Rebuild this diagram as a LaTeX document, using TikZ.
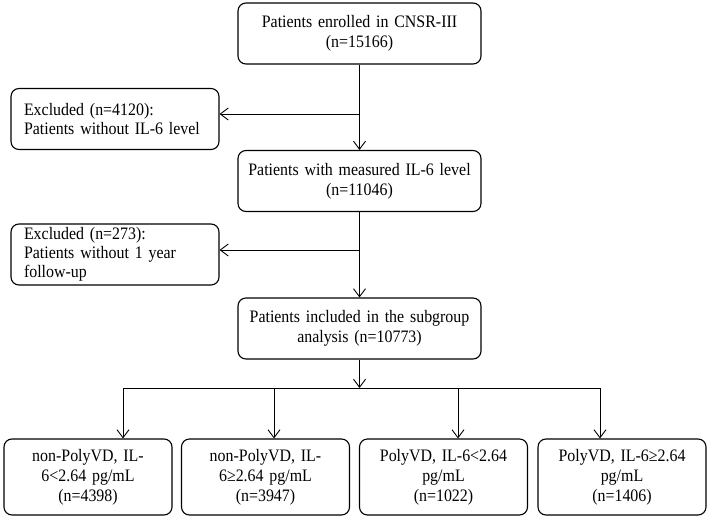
\documentclass[tikz,border=0pt]{standalone}
\usepackage{fontspec}
\setmainfont{Liberation Serif}[FakeStretch=0.91]
\usetikzlibrary{arrows.meta}
\begin{document}
\begin{tikzpicture}[x=1pt,y=-1pt,
    mainbox/.style={shape=rectangle,draw=black,line width=1.1pt,rounded corners=8pt,
        minimum width=243pt,minimum height=61pt,text width=235pt,align=center,
        inner sep=2pt,font=\fontsize{17.5}{20}\selectfont},
    sidebox/.style={shape=rectangle,draw=black,line width=1.1pt,rounded corners=8pt,
        minimum width=208pt,minimum height=61pt,text width=182pt,align=left,
        inner xsep=13pt,inner ysep=2pt,font=\fontsize{17.5}{19}\selectfont},
    groupbox/.style={shape=rectangle,draw=black,line width=1.1pt,rounded corners=8pt,
        minimum width=168pt,minimum height=76pt,text width=160pt,align=center,
        inner sep=2pt,font=\fontsize{17.5}{20}\selectfont},
    arr/.style={line width=0.9pt,-{Straight Barb[length=8pt,width=12pt,line width=0.9pt]}},
    link/.style={line width=0.9pt}]
    \useasboundingbox (0,0) rectangle (708,518);

    \node[mainbox] (enrolled) at (359.5,33.5) {Patients enrolled in CNSR-III\\(n=15166)};
    \node[sidebox] (excl1) at (115,119) {Excluded (n=4120):\\Patients without IL-6 level};
    \node[mainbox] (measured) at (359.5,181) {Patients with measured IL-6 level\\(n=11046)};
    \node[sidebox] (excl2) at (115,254.5) {Excluded (n=273):\\Patients without 1 year\\follow-up};
    \node[mainbox] (included) at (359.5,328.5) {Patients included in the subgroup\\analysis (n=10773)};

    \node[groupbox] (g1) at (88,477) {non-PolyVD, IL-\\6<2.64 pg/mL\\(n=4398)};
    \node[groupbox] (g2) at (265.5,477) {non-PolyVD, IL-\\6≥2.64 pg/mL\\(n=3947)};
    \node[groupbox] (g3) at (443.5,477) {PolyVD, IL-6<2.64\\pg/mL\\(n=1022)};
    \node[groupbox] (g4) at (622,477) {PolyVD, IL-6≥2.64\\pg/mL\\(n=1406)};

    \coordinate (split1) at (359.5,114);
    \coordinate (split2) at (359.5,250);
    \coordinate (bar) at (359.5,388);
    \coordinate (d1) at (123,388);
    \coordinate (d2) at (274,388);
    \coordinate (d3) at (458,388);
    \coordinate (d4) at (600,388);

    \draw[arr] (enrolled.south) -- (measured.north);
    \draw[arr] (split1) -- (split1 -| excl1.east);
    \draw[arr] (measured.south) -- (included.north);
    \draw[arr] (split2) -- (split2 -| excl2.east);
    \draw[arr] (included.south) -- (bar);
    \draw[link] (d1) -- (d4);
    \draw[arr] (d1) -- (d1 |- g1.north);
    \draw[arr] (d2) -- (d2 |- g2.north);
    \draw[arr] (d3) -- (d3 |- g3.north);
    \draw[arr] (d4) -- (d4 |- g4.north);
\end{tikzpicture}
\end{document}
